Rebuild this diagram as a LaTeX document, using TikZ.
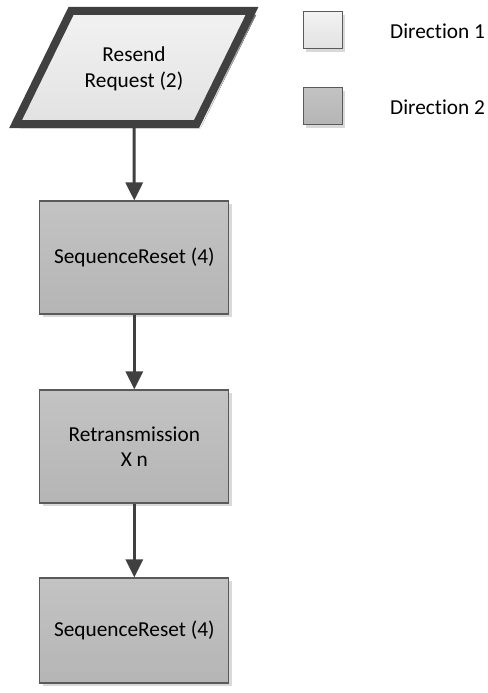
\documentclass[tikz,border=0pt]{standalone}
\usepackage{fontspec}
\setmainfont{Carlito}[Ligatures=NoCommon]
\usetikzlibrary{arrows.meta,shadows}

\definecolor{edge}{HTML}{404040}
\definecolor{boxline}{HTML}{5A5A5A}
\definecolor{boxtop}{HTML}{C3C3C3}
\definecolor{boxbot}{HTML}{B5B5B5}
\definecolor{lighttop}{HTML}{F2F2F2}
\definecolor{lightbot}{HTML}{E2E2E2}
\definecolor{shade}{HTML}{D9D9D9}

\tikzset{
  txt/.style={font=\fontsize{21.3}{25.5}\selectfont, align=center, text=black},
  stepbox/.style={txt, draw=boxline, line width=1.1pt, top color=boxtop, bottom color=boxbot,
    minimum width=189pt, minimum height=113pt, inner sep=0pt,
    drop shadow={shadow xshift=3pt, shadow yshift=-3pt, fill=shade, opacity=1}},
  legendbox/.style={draw=boxline, line width=1pt, minimum width=39pt, minimum height=37pt,
    inner sep=0pt, drop shadow={shadow xshift=3pt, shadow yshift=-3pt, fill=shade, opacity=1}},
  flow/.style={draw=edge, line width=3pt, -{Triangle[length=18pt,width=17pt]}},
  legendtext/.style={txt, anchor=west, inner sep=0pt}
}

\begin{document}
\begin{tikzpicture}[x=1pt, y=-1pt]
  \useasboundingbox (0,0) rectangle (487,693);

  % input parallelogram: shadow, fill, heavy outline
  \fill[shade] (75,15) -- (256,15) -- (200.6,128) -- (19.6,128) -- cycle;
  \draw[draw=edge, line width=8pt, line join=miter, top color=lighttop, bottom color=lightbot]
    (71,11) -- (252,11) -- (196.6,124) -- (15.6,124) -- cycle;
  \node[txt, inner sep=0pt] (req) at (134,69) {Resend\\Request (2)};
  \coordinate (reqb) at (134,128);

  % process steps
  \node[stepbox] (reset1) at (134.3,257.5) {SequenceReset (4)};
  \node[stepbox] (retrans) at (134.3,446.5) {Retransmission\\X n};
  \node[stepbox, minimum height=105pt] (reset2) at (134.3,630.5) {SequenceReset (4)};

  % connectors
  \draw[flow] (reqb) -- (reset1.north);
  \draw[flow] (reset1.south) -- (retrans.north);
  \draw[flow] (retrans.south) -- (reset2.north);

  % legend
  \node[legendbox, top color=lighttop, bottom color=lightbot] (leg1) at (322.5,30.5) {};
  \node[legendbox, top color=boxtop, bottom color=boxbot] (leg2) at (322.5,106) {};
  \node[legendtext] (leg1t) at (390,31) {Direction 1};
  \node[legendtext] (leg2t) at (390,107) {Direction 2};
\end{tikzpicture}
\end{document}
